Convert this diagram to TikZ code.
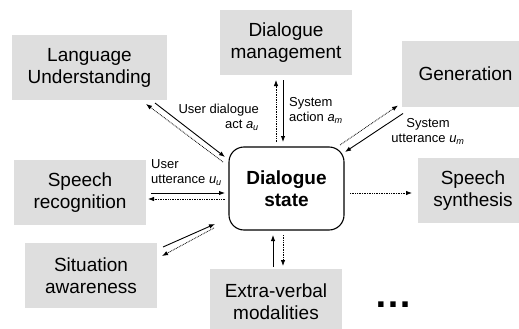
\documentclass[tikz,border=0pt]{standalone}
\usepackage{fontspec}
\setmainfont{Liberation Sans}
\usetikzlibrary{arrows.meta,calc}
\definecolor{boxgray}{RGB}{222,222,222}

\begin{document}
\begin{tikzpicture}[x=1pt, y=-1pt,
    block/.style ={rectangle, draw=none, fill=boxgray, align=center,
      minimum width=132pt, minimum height=65pt, inner sep=2pt, outer sep=0pt,
      font=\fontsize{19}{22}\selectfont},
    block_state/.style ={rectangle, draw=black, line width=1.1pt, fill=white,
      rounded corners=15pt, align=center, minimum width=115pt,
      minimum height=83pt, outer sep=0pt,
      font=\fontsize{19}{22}\selectfont\bfseries},
    label_left/.style ={align=left, inner sep=0pt, anchor=west,
      font=\fontsize{13}{15}\selectfont},
    label_right/.style ={align=right, inner sep=0pt, anchor=east,
      font=\fontsize{13}{15}\selectfont},
    label_center/.style ={align=center, inner sep=0pt,
      font=\fontsize{13}{15}\selectfont},
    line/.style ={draw, line width=0.9pt,
      -{Latex[length=6pt,width=4.5pt]}, shorten >=0pt},
    dots/.style ={line width=0.8pt, dash pattern=on 0.8pt off 0.9pt}]

    \useasboundingbox (0,0) rectangle (519,329);

    % Place nodes
    \node [block_state] (state) at (286.5,188.5) {Dialogue\\state};
    \node [block, minimum width=155pt] (lang) at (89.5,67.5) {Language\\Understanding};
    \node [block] (manage) at (286,42.5) {Dialogue\\management};
    \node [block, minimum width=127pt] (gen) at (465.5,74) {Generation};
    \node [block] (recog) at (80,192.5) {Speech\\recognition};
    \node [block, minimum width=110pt] (synth) at (473,190.5) {Speech\\synthesis};
    \node [block] (aware) at (91,275.5) {Situation\\awareness};
    \node [block] (extra) at (276,301.5) {Extra-verbal\\modalities};
    \node [inner sep=0pt, font=\fontsize{38}{38}\selectfont\bfseries] (more) at (393,305) {…};

    % labels of the connectors
    \node [label_right] (actU) at (259,117.5) {User dialogue\\act \textit{a}\textsubscript{\textit{u}}};
    \node [label_left] (actM) at (289,110.5) {System\\action \textit{a}\textsubscript{\textit{m}}};
    \node [label_center] (uttM) at (428,131.5) {System\\utterance \textit{u}\textsubscript{\textit{m}}};
    \node [label_left] (uttU) at (151,172.5) {User\\utterance \textit{u}\textsubscript{\textit{u}}};

    \begin{scope}[every path/.style=line]
    % Drawing paths, going round the dialogue state

    % language understanding
    \path ($(lang.south east)+(-12,3)$) -- ($(state.north west)+(-4,10)$);
    \path [dots] ($(state.north west)+(-6,15)$) -- ($(lang.south east)+(-21,4)$);

    % dialogue management
    \path [dots] ($(state.north)+(-10.5,-5)$) -- ($(manage.south)+(-10,5)$);
    \path ($(manage.south)+(-3,5)$) -- ($(state.north)+(-3.5,-5)$);

    % generation
    \path [dots] ($(state.north east)+(-4,-2)$) -- ($(gen.south west)+(-4,-1)$);
    \path ($(gen.south west)+(1,7)$) -- ($(state.north east)+(1,5)$);

    % speech recognition
    \path ($(recog.east)+(5,0.5)$) -- ($(state.west)+(-4,4.5)$);
    \path [dots] ($(state.west)+(-4,10.5)$) -- ($(recog.east)+(2,6.5)$);

    % situation awareness
    \path ($(aware.north east)+(6,4)$) -- ($(state.south west)+(-14,-6)$);
    \path [dots] ($(state.south west)+(-15,-2)$) -- ($(aware.north east)+(5,13)$);

    % extra-verbal modalities
    \path ($(extra.north)+(-3,-2)$) -- ($(state.south)+(-13.5,5)$);
    \path [dots] ($(state.south)+(-3.5,5)$) -- ($(extra.north)+(7,-3)$);

    % speech synthesis
    \path [dots] ($(state.east)+(6,4.5)$) -- ($(synth.west)+(-6,2.5)$);

    \end{scope}

\end{tikzpicture}
\end{document}
